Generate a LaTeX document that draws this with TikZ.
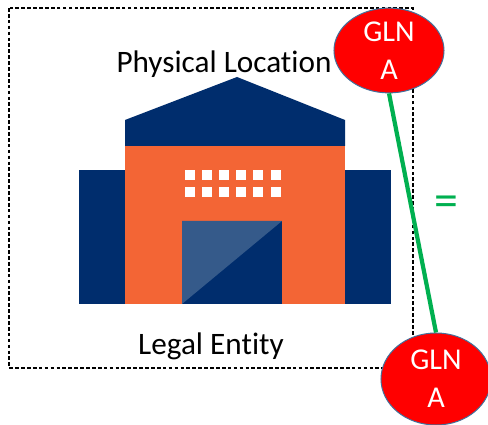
\documentclass[tikz,border=0pt]{standalone}
\usepackage{fontspec}
\setmainfont{Carlito}[Ligatures=NoCommon]
\usepackage{xcolor}
\usetikzlibrary{
  shapes.geometric
}
\definecolor{navy}{HTML}{002D6D}
\definecolor{doorlight}{HTML}{355A8A}
\definecolor{brick}{HTML}{F36535}
\definecolor{glnedge}{HTML}{41719C}
\definecolor{linkgreen}{HTML}{00B050}
\tikzset{
  gln/.style={
    ellipse,
    draw=glnedge,
    line width=0.7pt,
    fill=red,
    text=white,
    align=center,
    minimum width=2.75cm,
    minimum height=2.12cm,
    inner sep=0pt,
    font=\fontsize{21.5}{27}\selectfont},
  caption/.style={
    font=\fontsize{22.2}{26}\selectfont}
  }

\begin{document}
\begin{tikzpicture}[x=0.025cm,y=-0.025cm]
    \useasboundingbox (0,0) rectangle (488,425);
    \fill [white] (0,0) rectangle (488,425);
    \draw [dash pattern=on 2.6pt off 1.6pt, line width=0.75pt] (9,8) rectangle (413,368);
    % building
    \fill [navy] (79,170) rectangle (391,304);
    \fill [brick] (125,146) rectangle (345,304);
    \fill [navy] (125,120) -- (237,77) -- (345,120) -- (345,146) -- (125,146) -- cycle;
    \fill [navy] (182,221) rectangle (282,304);
    \fill [doorlight] (182,221) -- (282,221) -- (182,304) -- cycle;
    \foreach \i in {0,...,5} {
      \fill [white] (185+17.1*\i,170) rectangle +(10,10);
      \fill [white] (185+17.1*\i,187) rectangle +(10,10);
    }
    \node [caption] (location) at (224,64.5) {Physical Location};
    \node [caption] (entity) at (211,346.5) {Legal Entity};
    \node [gln] (glnA) at (389,50.5) {GLN\\A};
    \node [gln, minimum height=2.3cm] (glnB) at (436,379) {GLN\\A};
    \draw [linkgreen, line width=3pt]
    (glnA.south) -- (glnB.north);
    \node [text=linkgreen, font=\fontsize{34}{38}\selectfont] (same) at (446,206) {=};
  \end{tikzpicture}
\end{document}
